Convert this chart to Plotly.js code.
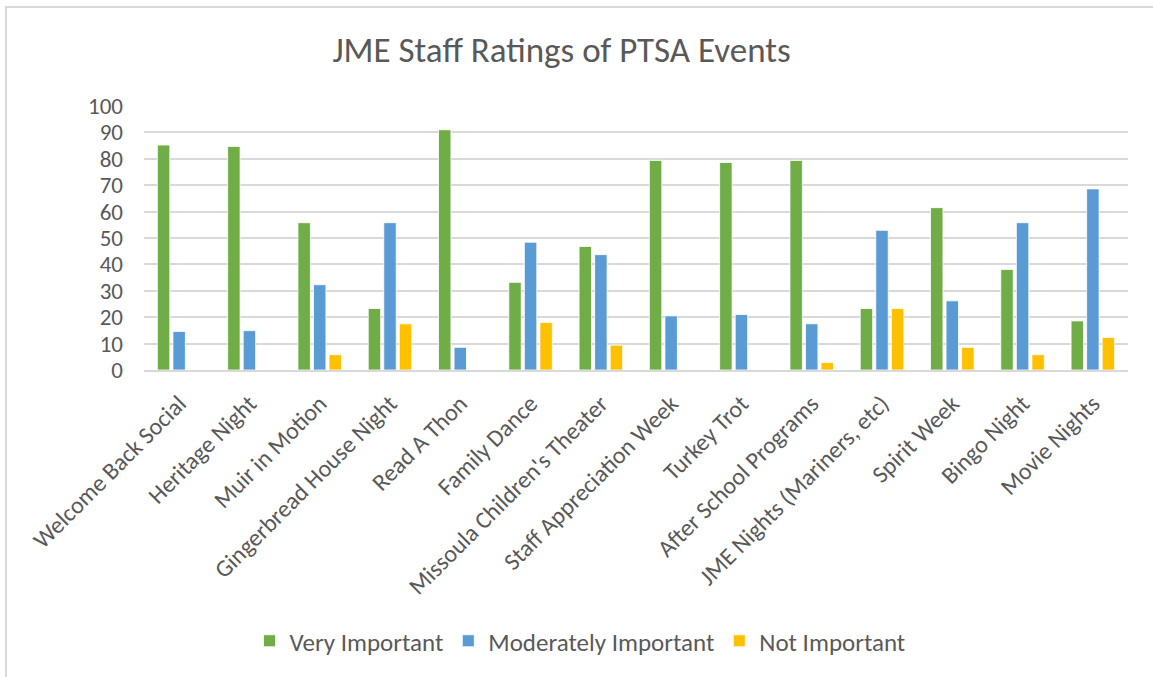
<!DOCTYPE html>
<html>
<head>
<meta charset="utf-8">
<script src="https://cdn.plot.ly/plotly-3.0.1.min.js"></script>
<style>
  html, body { margin: 0; padding: 0; background: #fff; }
  #wrap { position: relative; width: 1153px; height: 677px; overflow: hidden; }
  #chart { width: 1153px; height: 677px; }
  #frame { position: absolute; left: 5px; top: 6px; width: 1200px; height: 700px;
           border-left: 2px solid #d9d9d9; border-top: 2px solid #d9d9d9; pointer-events: none; }
</style>
</head>
<body>
<div id="wrap">
  <div id="chart"></div>
  <div id="frame"></div>
</div>
<script>
const categories = [
  "Welcome Back Social", "Heritage Night", "Muir in Motion", "Gingerbread House Night",
  "Read A Thon", "Family Dance", "Missoula Children's Theater", "Staff Appreciation Week",
  "Turkey Trot", "After School Programs", "JME Nights (Mariners, etc)", "Spirit Week",
  "Bingo Night", "Movie Nights"
];
const veryImportant       = [85.2, 84.7, 55.8, 23.3, 91.0, 33.2, 46.8, 79.4, 78.6, 79.4, 23.3, 61.5, 38.1, 18.6];
const moderatelyImportant = [14.6, 14.9, 32.3, 55.8, 8.6, 48.4, 43.7, 20.5, 21.0, 17.5, 52.9, 26.2, 55.8, 68.6];
const notImportant        = [0, 0, 5.8, 17.5, 0, 18.0, 9.4, 0, 0, 2.8, 23.3, 8.6, 5.8, 12.3];
const seriesNames = ["Very Important", "Moderately Important", "Not Important"];
const yTicks = [0, 10, 20, 30, 40, 50, 60, 70, 80, 90, 100];

const colors = ["#70AD47", "#5B9BD5", "#FFC000"];
const font = "Carlito, 'Open Sans', 'Noto Sans', sans-serif";
const values = [veryImportant, moderatelyImportant, notImportant];

const traces = values.map((v, i) => ({
  type: "bar",
  name: seriesNames[i],
  x: categories,
  y: v,
  marker: { color: colors[i], line: { color: "#ffffff", width: 0.8 } },
  hoverinfo: "x+y+name"
}));

const layout = {
  width: 1153, height: 677,
  paper_bgcolor: "#ffffff", plot_bgcolor: "#ffffff",
  margin: { l: 144, r: 25, t: 106, b: 307, pad: 0 },
  title: {
    text: "JME Staff Ratings of PTSA Events",
    font: { family: font, size: 35, color: "#595959" },
    x: 0.487, xref: "container", xanchor: "center",
    y: 1 - 50 / 677, yref: "container", yanchor: "middle"
  },
  barmode: "group",
  bargap: 0.336,
  bargroupgap: 0.2,
  xaxis: {
    type: "category",
    tickangle: -45,
    tickfont: { family: font, size: 24, color: "#595959" },
    showgrid: false,
    showline: true, linecolor: "#d9d9d9", linewidth: 2,
    ticks: "", ticklen: 0,
    ticklabelstandoff: 8,
    automargin: false
  },
  yaxis: {
    range: [0, 100],
    tickvals: yTicks,
    ticktext: yTicks.map(String),
    tickfont: { family: font, size: 23, color: "#595959" },
    showgrid: true, gridcolor: "#d9d9d9", gridwidth: 2,
    zeroline: false,
    showline: false,
    ticks: "",
    ticklabelstandoff: 20,
    automargin: false
  },
  showlegend: true,
  legend: {
    orientation: "h",
    x: 580 / 1153, xref: "container", xanchor: "center",
    y: 1 - 641 / 677, yref: "container", yanchor: "middle",
    font: { family: font, size: 25, color: "#595959" },
    itemwidth: 30,
    traceorder: "normal"
  }
};

Plotly.newPlot("chart", traces, layout, { displayModeBar: false, staticPlot: true });
</script>
</body>
</html>
